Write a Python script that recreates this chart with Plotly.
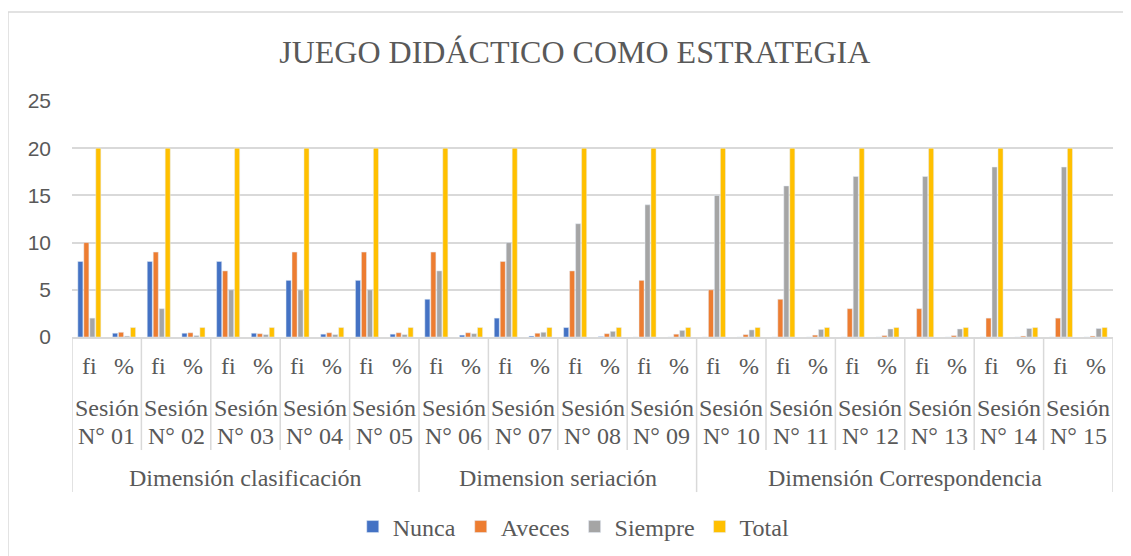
import plotly.graph_objects as go

# Data
series = ["Nunca", "Aveces", "Siempre", "Total"]
colors = ["#4472C4", "#ED7D31", "#A5A5A5", "#FFC000"]

sessions = ["N° 01", "N° 02", "N° 03", "N° 04", "N° 05", "N° 06", "N° 07", "N° 08",
            "N° 09", "N° 10", "N° 11", "N° 12", "N° 13", "N° 14", "N° 15"]
sub_labels = ["fi", "%"]
dimensions = ["Dimensión clasificación", "Dimension seriación", "Dimensión Correspondencia"]
dim_sizes = [5, 4, 6]  # sessions per dimension

# fi values per session
nunca_fi = [8, 8, 8, 6, 6, 4, 2, 1, 0, 0, 0, 0, 0, 0, 0]
aveces_fi = [10, 9, 7, 9, 9, 9, 8, 7, 6, 5, 4, 3, 3, 2, 2]
siempre_fi = [2, 3, 5, 5, 5, 7, 10, 12, 14, 15, 16, 17, 17, 18, 18]
total_fi = [20, 20, 20, 20, 20, 20, 20, 20, 20, 20, 20, 20, 20, 20, 20]

# % values per session (as fractions)
nunca_pct = [0.4, 0.4, 0.4, 0.3, 0.3, 0.2, 0.1, 0.05, 0, 0, 0, 0, 0, 0, 0]
aveces_pct = [0.5, 0.45, 0.35, 0.45, 0.45, 0.45, 0.4, 0.35, 0.3, 0.25, 0.2, 0.15, 0.15, 0.1, 0.1]
siempre_pct = [0.1, 0.15, 0.25, 0.25, 0.25, 0.35, 0.5, 0.6, 0.7, 0.75, 0.8, 0.85, 0.85, 0.9, 0.9]
total_pct = [1, 1, 1, 1, 1, 1, 1, 1, 1, 1, 1, 1, 1, 1, 1]

fi_data = [nunca_fi, aveces_fi, siempre_fi, total_fi]
pct_data = [nunca_pct, aveces_pct, siempre_pct, total_pct]

TXT = "#595959"
GRID = "#D9D9D9"
SERIF = "Liberation Serif"

n = len(sessions)
xpos = list(range(2 * n))

fig = go.Figure()
for name, col, fi, pc in zip(series, colors, fi_data, pct_data):
    ys = []
    for a, b in zip(fi, pc):
        ys += [a, b]
    fig.add_trace(go.Bar(x=xpos, y=ys, name=name, marker_color=col))


def label(x, y, text):
    return dict(x=x, y=y, xref="x", yref="paper", text=text, showarrow=False,
                xanchor="center", yanchor="middle",
                font=dict(family=SERIF, size=24, color=TXT))


# axis labels (three levels) drawn as annotations
ann = []
for i in xpos:
    ann.append(label(i, -0.123, sub_labels[i % 2]))
for s, lab in enumerate(sessions):
    ann.append(label(2 * s + 0.5, -0.301, "Sesión"))
    ann.append(label(2 * s + 0.5, -0.419, lab))

shapes = []
start = 0
bounds = [-0.5]
for d, size in zip(dimensions, dim_sizes):
    ann.append(label(start + size - 0.5, -0.597, d))
    start += 2 * size
    bounds.append(start - 0.5)

for s in range(1, n):
    xb = 2 * s - 0.5
    y0 = -0.657 if xb in bounds else -0.479
    shapes.append(dict(type="line", xref="x", yref="paper", x0=xb, x1=xb, y0=0, y1=y0,
                       line=dict(color=GRID, width=1.5)))
for xb in (bounds[0], bounds[-1]):
    shapes.append(dict(type="line", xref="x", yref="paper", x0=xb, x1=xb, y0=0, y1=-0.657,
                       line=dict(color=GRID, width=1.5)))

# chart border
shapes.append(dict(type="rect", xref="paper", yref="paper", x0=-0.0615, x1=1.2, y0=-1.5, y1=1.377,
                   line=dict(color=GRID, width=1.5), fillcolor="rgba(0,0,0,0)", layer="below"))

# page body has an 8px margin, so figure is shifted by that much
fig.update_layout(
    width=1123, height=548,
    margin=dict(l=64, r=18, t=93, b=219),
    paper_bgcolor="white", plot_bgcolor="white",
    barmode="group", bargap=0.31, bargroupgap=0.15,
    title=dict(text="JUEGO DIDÁCTICO COMO ESTRATEGIA", x=0.483, xref="paper",
               y=0.92, yref="container", xanchor="center", yanchor="middle",
               font=dict(family=SERIF, size=32, color=TXT)),
    xaxis=dict(range=[-0.5, 2 * n - 0.5], showticklabels=False, showgrid=False,
               zeroline=False, showline=True, linecolor=GRID, linewidth=1.5),
    yaxis=dict(range=[0, 25], tickvals=[0, 5, 10, 15, 20, 25], showgrid=True,
               gridcolor=GRID, gridwidth=1.5, zeroline=False, showline=False,
               ticklabelstandoff=20,
               tickfont=dict(family="Liberation Sans", size=21, color=TXT)),
    legend=dict(orientation="h", x=0.482, xanchor="center", xref="paper",
                y=0.053, yanchor="middle", yref="container",
                font=dict(family=SERIF, size=24, color=TXT), traceorder="normal",
                itemwidth=30),
    annotations=ann, shapes=shapes,
)

fig.write_html("out.html")
